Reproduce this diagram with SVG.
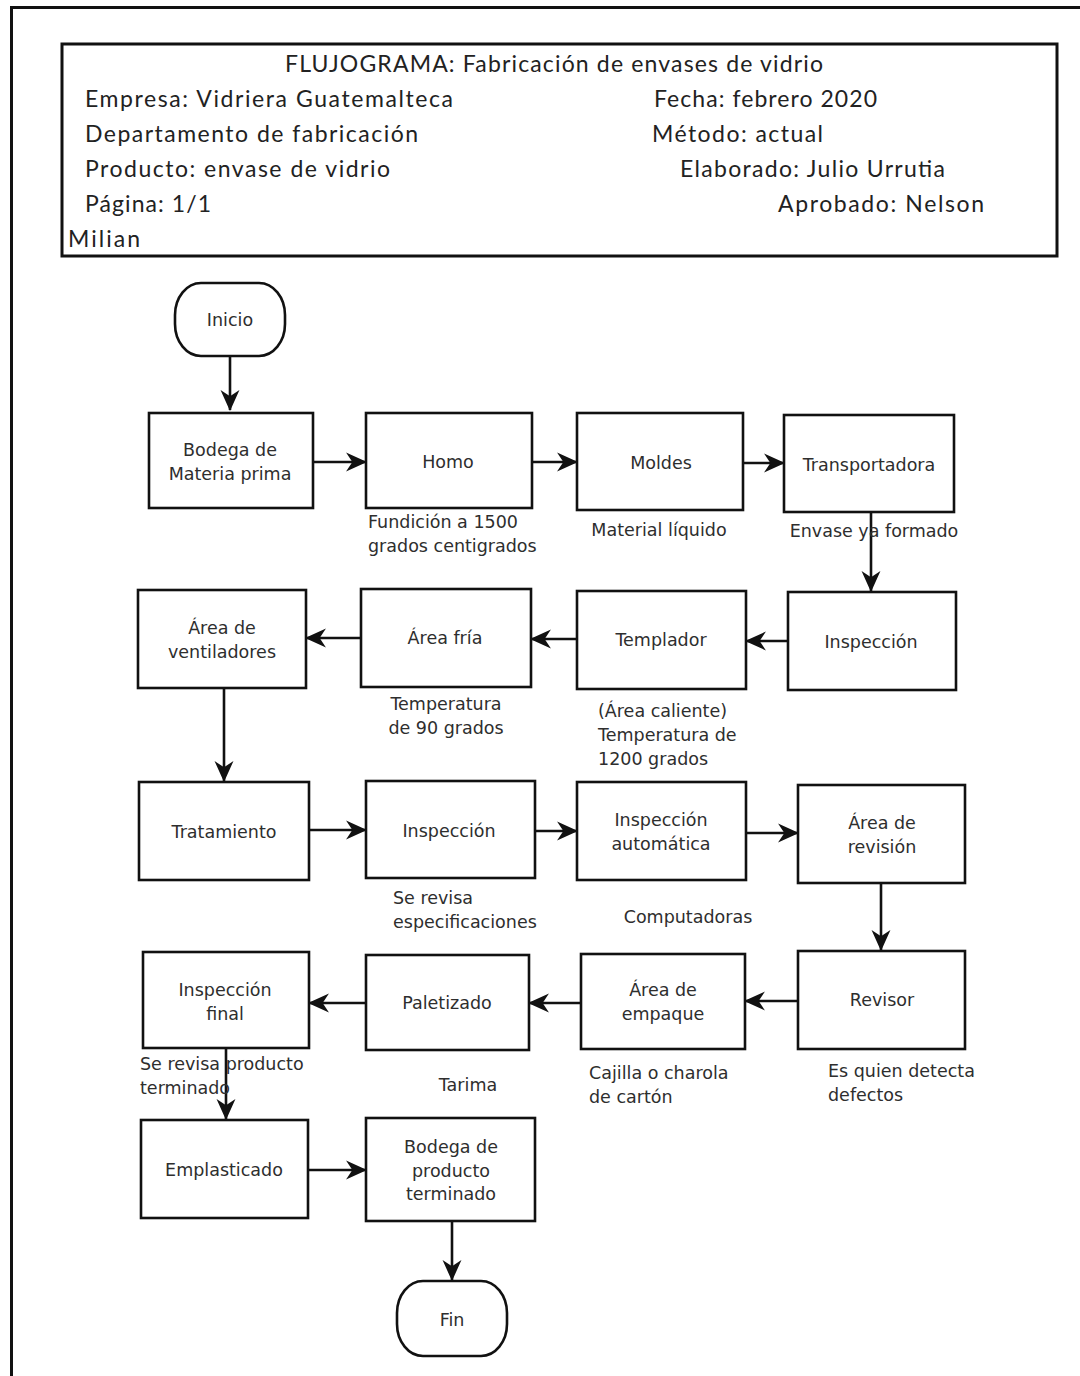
<svg xmlns="http://www.w3.org/2000/svg" width="1080" height="1376" viewBox="0 0 1080 1376">
  <style>
    .frame { fill: none; stroke: #111; stroke-width: 3; }
    .box { fill: #fff; stroke: #111; stroke-width: 2.6; }
    .hd { font-family: Lato, "Open Sans", sans-serif; font-size: 23px; fill: #222; }
    .lbl { font-family: "DejaVu Sans", Verdana, sans-serif; font-size: 17.5px; fill: #2e2e2e; }
    .note { font-family: "DejaVu Sans", Verdana, sans-serif; font-size: 17.5px; fill: #2e2e2e; }
    .mid { text-anchor: middle; }
    .edge { fill: none; stroke: #111; stroke-width: 2.6; marker-end: url(#arrow); }
  </style>
  <defs>
    <marker id="arrow" viewBox="0 0 20 20" refX="19" refY="10" markerWidth="21" markerHeight="21" markerUnits="userSpaceOnUse" orient="auto">
      <path d="M0,1 L20,10 L0,19 L6,10 z" fill="#111"/>
    </marker>
  </defs>

  <rect width="1080" height="1376" fill="#fff"/>

  <!-- page frame (runs off the right and bottom edges) -->
  <path class="frame" d="M11.5,1400 L11.5,7.5 L1100,7.5"/>

  <!-- title block -->
  <g id="header">
    <rect class="frame" x="62" y="44" width="995" height="212"/>
    <text class="hd" x="285" y="72" textLength="538" lengthAdjust="spacing">FLUJOGRAMA: Fabricación de envases de vidrio</text>
    <text class="hd" x="85" y="107" textLength="368" lengthAdjust="spacing">Empresa: Vidriera Guatemalteca</text>
    <text class="hd" x="85" y="142" textLength="333" lengthAdjust="spacing">Departamento de fabricación</text>
    <text class="hd" x="85" y="177" textLength="305" lengthAdjust="spacing">Producto: envase de vidrio</text>
    <text class="hd" x="85" y="212" textLength="126" lengthAdjust="spacing">Página: 1/1</text>
    <text class="hd" x="68" y="247" textLength="72" lengthAdjust="spacing">Milian</text>
    <text class="hd" x="654" y="107" textLength="223" lengthAdjust="spacing">Fecha: febrero 2020</text>
    <text class="hd" x="652" y="142" textLength="171" lengthAdjust="spacing">Método: actual</text>
    <text class="hd" x="680" y="177" textLength="265" lengthAdjust="spacing">Elaborado: Julio Urrutia</text>
    <text class="hd" x="778" y="212" textLength="206" lengthAdjust="spacing">Aprobado: Nelson</text>
  </g>

  <!-- connectors -->
  <g id="connectors">
    <path class="edge" d="M230,356 L230,410"/>
    <path class="edge" d="M313,462 L366,462"/>
    <path class="edge" d="M532,462 L577,462"/>
    <path class="edge" d="M743,463 L784,463"/>
    <path class="edge" d="M871,512 L871,591"/>
    <path class="edge" d="M788,641 L746,641"/>
    <path class="edge" d="M577,639 L531,639"/>
    <path class="edge" d="M361,638 L306,638"/>
    <path class="edge" d="M224,688 L224,781"/>
    <path class="edge" d="M309,830 L366,830"/>
    <path class="edge" d="M535,831 L577,831"/>
    <path class="edge" d="M746,833 L798,833"/>
    <path class="edge" d="M881,883 L881,950"/>
    <path class="edge" d="M798,1001 L745,1001"/>
    <path class="edge" d="M581,1003 L529,1003"/>
    <path class="edge" d="M366,1003 L309,1003"/>
    <path class="edge" d="M226,1048 L226,1119"/>
    <path class="edge" d="M308,1170 L366,1170"/>
    <path class="edge" d="M452,1221 L452,1280"/>
  </g>

  <!-- start / end terminators -->
  <g id="inicio">
    <rect class="box" x="175" y="283" width="110" height="73" rx="26" ry="32"/>
    <text class="lbl mid" x="230" y="326">Inicio</text>
  </g>
  <g id="fin">
    <rect class="box" x="397" y="1281" width="110" height="75" rx="26" ry="32"/>
    <text class="lbl mid" x="452" y="1326">Fin</text>
  </g>

  <!-- row 1 -->
  <g id="bodega-materia">
    <rect class="box" x="149" y="413" width="164" height="95"/>
    <text class="lbl mid" x="230" y="456">Bodega de</text>
    <text class="lbl mid" x="230" y="480">Materia prima</text>
  </g>
  <g id="horno">
    <rect class="box" x="366" y="413" width="166" height="95"/>
    <text class="lbl mid" x="448" y="468">Homo</text>
  </g>
  <g id="moldes">
    <rect class="box" x="577" y="413" width="166" height="97"/>
    <text class="lbl mid" x="661" y="469">Moldes</text>
  </g>
  <g id="transportadora">
    <rect class="box" x="784" y="415" width="170" height="97"/>
    <text class="lbl mid" x="869" y="471">Transportadora</text>
  </g>
  <text class="note" x="368" y="528">Fundición a 1500</text>
  <text class="note" x="368" y="552">grados centigrados</text>
  <text class="note mid" x="659" y="536">Material líquido</text>
  <text class="note mid" x="874" y="537">Envase ya formado</text>

  <!-- row 2 -->
  <g id="area-ventiladores">
    <rect class="box" x="138" y="590" width="168" height="98"/>
    <text class="lbl mid" x="222" y="634">Área de</text>
    <text class="lbl mid" x="222" y="658">ventiladores</text>
  </g>
  <g id="area-fria">
    <rect class="box" x="361" y="589" width="170" height="98"/>
    <text class="lbl mid" x="445" y="644">Área fría</text>
  </g>
  <g id="templador">
    <rect class="box" x="577" y="591" width="169" height="98"/>
    <text class="lbl mid" x="661" y="646">Templador</text>
  </g>
  <g id="inspeccion-1">
    <rect class="box" x="788" y="592" width="168" height="98"/>
    <text class="lbl mid" x="871" y="648">Inspección</text>
  </g>
  <text class="note mid" x="446" y="710">Temperatura</text>
  <text class="note mid" x="446" y="734">de 90 grados</text>
  <text class="note" x="598" y="717">(Área caliente)</text>
  <text class="note" x="598" y="741">Temperatura de</text>
  <text class="note" x="598" y="765">1200 grados</text>

  <!-- row 3 -->
  <g id="tratamiento">
    <rect class="box" x="139" y="782" width="170" height="98"/>
    <text class="lbl mid" x="224" y="838">Tratamiento</text>
  </g>
  <g id="inspeccion-2">
    <rect class="box" x="366" y="781" width="169" height="97"/>
    <text class="lbl mid" x="449" y="837">Inspección</text>
  </g>
  <g id="inspeccion-automatica">
    <rect class="box" x="577" y="782" width="169" height="98"/>
    <text class="lbl mid" x="661" y="826">Inspección</text>
    <text class="lbl mid" x="661" y="850">automática</text>
  </g>
  <g id="area-revision">
    <rect class="box" x="798" y="785" width="167" height="98"/>
    <text class="lbl mid" x="882" y="829">Área de</text>
    <text class="lbl mid" x="882" y="853">revisión</text>
  </g>
  <text class="note" x="393" y="904">Se revisa</text>
  <text class="note" x="393" y="928">especificaciones</text>
  <text class="note mid" x="688" y="923">Computadoras</text>

  <!-- row 4 -->
  <g id="inspeccion-final">
    <rect class="box" x="143" y="952" width="166" height="96"/>
    <text class="lbl mid" x="225" y="996">Inspección</text>
    <text class="lbl mid" x="225" y="1020">final</text>
  </g>
  <g id="paletizado">
    <rect class="box" x="366" y="955" width="163" height="95"/>
    <text class="lbl mid" x="447" y="1009">Paletizado</text>
  </g>
  <g id="area-empaque">
    <rect class="box" x="581" y="954" width="164" height="95"/>
    <text class="lbl mid" x="663" y="996">Área de</text>
    <text class="lbl mid" x="663" y="1020">empaque</text>
  </g>
  <g id="revisor">
    <rect class="box" x="798" y="951" width="167" height="98"/>
    <text class="lbl mid" x="882" y="1006">Revisor</text>
  </g>
  <text class="note" x="140" y="1070">Se revisa producto</text>
  <text class="note" x="140" y="1094">terminado</text>
  <text class="note mid" x="468" y="1091">Tarima</text>
  <text class="note" x="589" y="1079">Cajilla o charola</text>
  <text class="note" x="589" y="1103">de cartón</text>
  <text class="note" x="828" y="1077">Es quien detecta</text>
  <text class="note" x="828" y="1101">defectos</text>

  <!-- row 5 -->
  <g id="emplasticado">
    <rect class="box" x="141" y="1120" width="167" height="98"/>
    <text class="lbl mid" x="224" y="1176">Emplasticado</text>
  </g>
  <g id="bodega-producto">
    <rect class="box" x="366" y="1118" width="169" height="103"/>
    <text class="lbl mid" x="451" y="1153">Bodega de</text>
    <text class="lbl mid" x="451" y="1177">producto</text>
    <text class="lbl mid" x="451" y="1200">terminado</text>
  </g>
</svg>
